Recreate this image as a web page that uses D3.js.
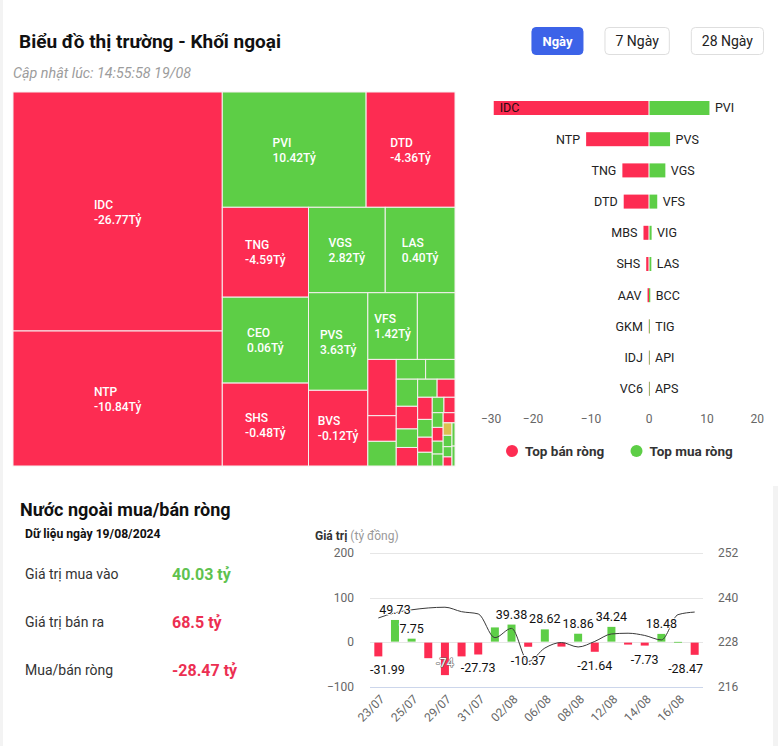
<!DOCTYPE html>
<html><head><meta charset="utf-8">
<script src="https://cdn.jsdelivr.net/npm/d3@7"></script>
<style>
html,body{margin:0;padding:0;background:#fff;}
svg{display:block;font-family:Roboto,"Noto Sans",sans-serif;}
</style></head><body>
<svg id="c" width="778" height="746"></svg>
<script>
// ---------------- DATA ----------------
const titleText = "Biểu đồ thị trường - Khối ngoại";
const updatedText = "Cập nhật lúc: 14:55:58 19/08";
const periodButtons = ["Ngày", "7 Ngày", "28 Ngày"];

// treemap: ticker, net value (tỷ), cell size (trading weight)
const tmNames = ["IDC","NTP","PVI","DTD","TNG","CEO","SHS","VGS","LAS","PVS","BVS","VFS","VIG","MBS","AAV","BCC","TIG","API","APS","GKM","HUT","IDJ","PLC","VC6","NVB","DHT","TVD","PVC","SLS","L14","DTK","TAR","HLD","THD","NBC","KSV","VCS","DXP","BAB","MST","TDN"];
const tmNet = [-26.77,-10.84,10.42,-4.36,-4.59,0.06,-0.48,2.82,0.40,3.63,-0.12,1.42,0.45,-0.95,-0.25,0.22,0.12,0.10,0.08,-0.03,0.05,-0.02,0.04,-0.015,-0.01,0.02,-0.01,0.03,0.01,-0.01,0.02,-0.01,0.01,0.02,-0.01,0,0.01,0.02,-0.01,0.01,0.01];
const tmSize = [49951,28215,16560,10235,7740,7396,7138,6545,5950,5782,4484,3300,2508,1596,728,700,580,580,580,484,396,396,352,323,323,260,220,200,180,170,160,150,140,130,120,110,100,90,80,70,60];

// top net sell / buy
const sellNames = ["IDC","NTP","TNG","DTD","MBS","SHS","AAV","GKM","IDJ","VC6"];
const sellValues = [-26.77,-10.84,-4.59,-4.36,-0.95,-0.48,-0.25,-0.03,-0.02,-0.015];
const buyNames = ["PVI","PVS","VGS","VFS","VIG","LAS","BCC","TIG","API","APS"];
const buyValues = [10.42,3.63,2.82,1.42,0.45,0.40,0.22,0.12,0.10,0.08];
const barTicks = [-30,-20,-10,0,10,20];
const legendLabels = ["Top bán ròng","Top mua ròng"];

// bottom section
const sectionTitle = "Nước ngoài mua/bán ròng";
const dataDate = "Dữ liệu ngày 19/08/2024";
const statLabels = ["Giá trị mua vào","Giá trị bán ra","Mua/bán ròng"];
const statValues = ["40.03 tỷ","68.5 tỷ","-28.47 tỷ"];
const dates = ["23/07","24/07","25/07","26/07","29/07","30/07","31/07","01/08","02/08","05/08","06/08","07/08","08/08","09/08","12/08","13/08","14/08","15/08","16/08","19/08"];
const netFlow = [-31.99,49.73,7.75,-36,-74,-32,-27.73,33,39.38,-10.37,28.62,-10,18.86,-21.64,34.24,-5.5,-7.73,18.48,0.6,-28.47];
const netLabels = ["-31.99","49.73","7.75","","-74","","-27.73","","39.38","-10.37","28.62","","18.86","-21.64","34.24","","-7.73","18.48","","-28.47"];
const indexLine = [234.5,235.9,236.7,237.2,237.4,236.2,235.6,229.2,231.7,222.8,226.4,227.9,226.7,228.2,230.2,230.4,229.8,228.6,235.4,236.1];
const leftTicks = [-100,0,100,200];
const rightTicks = [216,228,240,252];

// ---------------- STYLE ----------------
const RED = "#fd2c52", GREEN = "#5dce46", YELLOW = "#dcc050";
const svg = d3.select("#c");

svg.append("rect").attr("width",778).attr("height",746).attr("fill","#fff");
svg.append("rect").attr("x",0).attr("y",0).attr("width",3).attr("height",746).attr("fill","#f3f3f3");
svg.append("rect").attr("x",773).attr("y",486).attr("width",5).attr("height",260).attr("fill","#f3f3f3");

// ---------------- HEADER ----------------
svg.append("text").attr("x",19).attr("y",48).attr("font-size",19).attr("font-weight",700)
  .attr("fill","#111").text(titleText);
svg.append("text").attr("x",13).attr("y",78).attr("font-size",14.3).attr("font-style","italic")
  .attr("fill","#9c9c9c").text(updatedText);

(function(){
  let right = 764;
  for (let i = periodButtons.length-1; i >= 0; i--) {
    const g = svg.append("g");
    const t = g.append("text").attr("font-size", i===0?13:14).attr("font-weight", i===0?700:400)
      .attr("fill", i===0?"#fff":"#222").attr("text-anchor","middle").text(periodButtons[i]);
    const tw = t.node().getComputedTextLength();
    const w = tw + 22;
    const x = right - w;
    g.insert("rect","text").attr("x",x+0.5).attr("y",27.5).attr("width",w-1).attr("height",27).attr("rx",4)
      .attr("fill", i===0?"#3c63e8":"#fff").attr("stroke", i===0?"#3c63e8":"#dedede");
    t.attr("x", x + w/2).attr("y", 46);
    right = x - 21;
  }
})();

// ---------------- TREEMAP ----------------
function tileAlt(parent, x0, y0, x1, y1) {
  const nodes = parent.children, n = nodes.length;
  let dir = 0, i0 = 0, total = parent.value;
  while (i0 < n) {
    const dx = x1 - x0, dy = y1 - y0;
    const scale = (dx*dy) / total;
    let i1 = i0 + 1, sum = nodes[i0].value * scale;
    while (i1 < n) {
      const last = nodes[i1-1].value * scale, add = nodes[i1].value * scale;
      let lR, nR;
      if (dir === 0) {
        const lw = sum/dy, lh = last/lw; lR = Math.max(lw/lh, lh/lw);
        const nw = (sum+add)/dy, nh = last/nw; nR = Math.max(nw/nh, nh/nw);
      } else {
        const lh = sum/dx, lw = last/lh; lR = Math.max(lw/lh, lh/lw);
        const nh = (sum+add)/dx, nw = last/nh; nR = Math.max(nw/nh, nh/nw);
      }
      if (nR > lR) break;
      sum += add; i1++;
    }
    const row = {children: nodes.slice(i0, i1), value: sum/scale};
    if (i1 >= n) {
      if (dir === 0) d3.treemapSlice(row, x0, y0, x1, y1); else d3.treemapDice(row, x0, y0, x1, y1);
    } else if (dir === 0) {
      const xm = x0 + sum/dy; d3.treemapSlice(row, x0, y0, xm, y1); x0 = xm;
    } else {
      const ym = y0 + sum/dx; d3.treemapDice(row, x0, y0, x1, ym); y0 = ym;
    }
    total -= row.value;
    dir = 1 - dir;
    i0 = i1;
  }
}

const tmRoot = d3.hierarchy({children: tmNames.map((n,i)=>({name:n, net:tmNet[i], size:tmSize[i]}))})
  .sum(d => d.size || 0);
d3.treemap().size([442, 374]).tile(tileAlt)(tmRoot);
const tg = svg.append("g").attr("transform","translate(13,92)");
const fmt2 = d3.format(".2f");
tmRoot.leaves().forEach(l => {
  const d = l.data;
  tg.append("rect").attr("x",l.x0).attr("y",l.y0).attr("width",l.x1-l.x0).attr("height",l.y1-l.y0)
    .attr("fill", d.net > 0 ? GREEN : d.net < 0 ? RED : YELLOW)
    .attr("stroke","#f6f0f0").attr("stroke-width",1);
  const w = l.x1-l.x0, h = l.y1-l.y0;
  const lines = [d.name, fmt2(d.net).replace("−","-") + "Tỷ"];
  const g = tg.append("g");
  const ts = lines.map(s => g.append("text").attr("font-size",12).attr("font-weight",500)
    .attr("fill","#fff").text(s));
  const tw = d3.max(ts, t => t.node().getComputedTextLength());
  if (tw + 4 > w || h < 34) { g.remove(); return; }
  const cx = (l.x0+l.x1)/2, cy = (l.y0+l.y1)/2;
  ts.forEach((t,k) => t.attr("x", cx - tw/2).attr("y", cy + (k===0?-7:8)).attr("dy","0.35em"));
});

// ---------------- TOP BUY/SELL BAR CHART ----------------
const xb = d3.scaleLinear().domain([-30, 20]).range([475, 765]);
const yb = d3.scaleBand().domain(d3.range(sellNames.length)).range([92.4, 404.4]);
const bg = svg.append("g");
const x0b = xb(0);
sellValues.forEach((v,i) => {
  const cy = yb(i) + yb.bandwidth()/2;
  let x = xb(v), w = x0b - x;
  if (w > 1.5) w -= 0.5;
  bg.append("rect").attr("x",x).attr("y",cy-7).attr("width",Math.max(w,0.6)).attr("height",14).attr("fill",RED);
  const t = bg.append("text").attr("font-size",12.5).attr("fill","#222").attr("y",cy).attr("dy","0.35em").text(sellNames[i]);
  const tw = t.node().getComputedTextLength();
  if (x - 6 - tw < 481) t.attr("x", x + 6).attr("fill","#2a0a10");
  else t.attr("x", x - 6).attr("text-anchor","end");
});
buyValues.forEach((v,i) => {
  const cy = yb(i) + yb.bandwidth()/2;
  let x = x0b, w = xb(v) - x0b;
  if (w > 1.5) { x += 0.5; w -= 0.5; }
  bg.append("rect").attr("x",x).attr("y",cy-7).attr("width",Math.max(w,0.6)).attr("height",14).attr("fill",GREEN);
  bg.append("text").attr("font-size",12.5).attr("fill","#222").attr("x", xb(v) + 5.5)
    .attr("y",cy).attr("dy","0.35em").text(buyNames[i]);
});
const fmtTick = d3.format("");
barTicks.forEach(v => {
  const t = bg.append("text").attr("font-size",12).attr("fill","#666").attr("text-anchor","middle")
    .attr("y",419).attr("dy","0.35em").text(fmtTick(v));
  const tw = t.node().getComputedTextLength();
  let cx = xb(v);
  if (cx - tw/2 < 481) cx = 481 + tw/2;
  if (cx + tw/2 > 764) cx = 764 - tw/2;
  t.attr("x", cx);
});
[[512, RED],[636.5, GREEN]].forEach((p,i) => {
  bg.append("circle").attr("cx",p[0]).attr("cy",451).attr("r",6).attr("fill",p[1]);
  bg.append("text").attr("x",p[0]+13).attr("y",451).attr("dy","0.35em").attr("font-size",13.5)
    .attr("font-weight",700).attr("fill","#333").text(legendLabels[i]);
});

// ---------------- BOTTOM LEFT STATS ----------------
svg.append("text").attr("x",20).attr("y",516).attr("font-size",18).attr("font-weight",700).attr("fill","#111").text(sectionTitle);
svg.append("text").attr("x",25).attr("y",538).attr("font-size",12.2).attr("font-weight",700).attr("fill","#111").text(dataDate);
const statColors = [ "#5fc24f", "#ec2f52", "#ec2f52" ];
statLabels.forEach((s,i) => {
  const y = 579 + i*48;
  svg.append("text").attr("x",25).attr("y",y).attr("font-size",14).attr("fill","#333").text(s);
  svg.append("text").attr("x",172).attr("y",y+1).attr("font-size",16).attr("font-weight",700)
    .attr("fill",statColors[i]).text(statValues[i]);
});

// ---------------- BOTTOM RIGHT COMBO CHART ----------------
const cg = svg.append("g");
const xc = d3.scaleBand().domain(dates).range([370, 703]).paddingInner(0.52).paddingOuter(0.26);
const yl = d3.scaleLinear().domain([-100, 200]).range([686.7, 553]);
const yr = d3.scaleLinear().domain([216, 252]).range([686.7, 553]);
const t1 = cg.append("text").attr("x",315).attr("y",540).attr("font-size",12);
t1.append("tspan").attr("font-weight",700).attr("fill","#333").text("Giá trị");
t1.append("tspan").attr("fill","#999").text(" (tỷ đồng)");

leftTicks.forEach(v => {
  cg.append("line").attr("x1",370).attr("x2",703).attr("y1",Math.round(yl(v))+0.5).attr("y2",Math.round(yl(v))+0.5)
    .attr("stroke", v === -100 ? "#ccd6eb" : "#e6e6e6");
  cg.append("text").attr("x",354).attr("y",yl(v)).attr("dy","0.35em").attr("text-anchor","end")
    .attr("font-size",12).attr("fill","#666").text(d3.format("")(v));
});
rightTicks.forEach(v => {
  cg.append("text").attr("x",718).attr("y",yr(v)).attr("dy","0.35em")
    .attr("font-size",12).attr("fill","#666").text(v);
});
netFlow.forEach((v,i) => {
  const x = xc(dates[i]);
  const y0 = yl(0), y1 = yl(v);
  cg.append("rect").attr("x",x).attr("width",xc.bandwidth())
    .attr("y", Math.min(y0,y1) + (v>0?0:0.5)).attr("height", Math.max(Math.abs(y1-y0)-0.5, 0.8))
    .attr("fill", v >= 0 ? GREEN : RED);
});
const line = d3.line().x((d,i) => xc(dates[i]) + xc.bandwidth()/2).y(d => yr(d)).curve(d3.curveMonotoneX);
cg.append("path").attr("d", line(indexLine)).attr("fill","none").attr("stroke","#3a3a3a").attr("stroke-width",1);
netFlow.forEach((v,i) => {
  if (!netLabels[i]) return;
  const cx0 = xc(dates[i]) + xc.bandwidth()/2;
  const t = cg.append("text").attr("font-size",12.5).attr("text-anchor","middle")
    .attr("paint-order","stroke").attr("stroke-linejoin","round").text(netLabels[i]);
  const tw = t.node().getComputedTextLength();
  let cx = Math.max(370 + tw/2, Math.min(703 - tw/2, cx0));
  let y, inside = false;
  if (v >= 0) y = yl(v) - 6;
  else {
    y = yl(v) + 18;
    if (y + 2 > 686.7) { y = yl(v) - 8; inside = true; }
  }
  t.attr("x",cx).attr("y",y)
    .attr("fill", inside ? "#fff" : "#111")
    .attr("stroke", inside ? "#666" : "#fff")
    .attr("stroke-width", inside ? 1.2 : 2);
});
dates.forEach((d,i) => {
  if (i % 2) return;
  const cx = xc(d) + xc.bandwidth()/2;
  cg.append("text").attr("transform",`translate(${cx+4},${697}) rotate(-45)`)
    .attr("text-anchor","end").attr("dy","0.35em").attr("font-size",12).attr("fill","#666").text(d);
});
</script>
</body></html>
